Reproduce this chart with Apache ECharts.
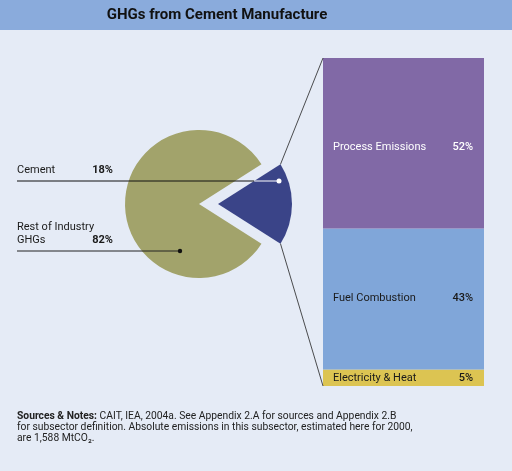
<!DOCTYPE html>
<html>
<head>
<meta charset="utf-8">
<script src="https://cdn.jsdelivr.net/npm/echarts@6/dist/echarts.min.js"></script>
<style>
html,body{margin:0;padding:0;background:#e5ebf6;}
#chart{width:512px;height:471px;}
</style>
</head>
<body>
<div id="chart"></div>
<script>
// ---- data ----
var titleText = 'GHGs from Cement Manufacture';
var pieNames = ['Cement', 'Rest of Industry GHGs'];
var pieValues = [18, 82];
var barCategories = ['Cement'];
var barNames = ['Electricity & Heat', 'Fuel Combustion', 'Process Emissions'];
var barValues = [5, 43, 52];
var noteLines = [
  'CAIT, IEA, 2004a. See Appendix 2.A for sources and Appendix 2.B',
  'for subsector definition. Absolute emissions in this subsector, estimated here for 2000,',
  'are 1,588 MtCO\u2082.'
];

// ---- layout ----
var FONT = 'Roboto, "Noto Sans", sans-serif';
var PCX = 199, PCY = 204, PR = 74, POFF = 19;
var GL = 323, GT = 58, GW = 161, GH = 328;
var cementAngle = pieValues[0] / (pieValues[0] + pieValues[1]) * 360;
var half = cementAngle / 2 * Math.PI / 180;
var vx = PCX + POFF, vy = PCY;
var topCorner = [vx + PR * Math.cos(half), vy - PR * Math.sin(half)];
var botCorner = [vx + PR * Math.cos(half), vy + PR * Math.sin(half)];
var cementLineY = 181, restLineY = 251;
var whiteStart = vx + (vy - cementLineY) / Math.tan(half);

var barColors = ['#dcc452', '#80a6d9', '#8169a6'];
var barTextColors = ['#1a1a1a', '#1a1a1a', '#ffffff'];
var barLabelOffsets = [[0, 0], [0, -1], [0, 4]];

var chart = echarts.init(document.getElementById('chart'), null, {renderer: 'canvas'});

var barSeries = barNames.map(function (nm, i) {
  return {
    type: 'bar',
    name: nm,
    stack: 'total',
    barWidth: '100%',
    silent: true,
    data: [barValues[i]],
    itemStyle: {color: barColors[i]},
    label: {
      show: true,
      position: 'insideLeft',
      distance: 10,
      offset: barLabelOffsets[i],
      formatter: function (p) { return '{n|' + p.seriesName + '}{p|' + p.value + '%}'; },
      rich: {
        n: {width: 110, fontSize: 11, fontFamily: FONT, color: barTextColors[i]},
        p: {width: 30, align: 'right', fontSize: 11, fontWeight: 500, fontFamily: FONT, color: barTextColors[i]}
      }
    }
  };
});

var graphics = [
  {type: 'rect', z: -10, shape: {x: 0, y: 0, width: 512, height: 30}, style: {fill: '#8aabdc'}},
  {type: 'text', x: 217, y: 15, style: {text: titleText, fontSize: 15, fontWeight: 'bold', fontFamily: FONT, fill: '#111', align: 'center', verticalAlign: 'middle'}},
  // zoom lines
  {type: 'line', z: 5, shape: {x1: topCorner[0], y1: topCorner[1], x2: GL, y2: GT}, style: {stroke: '#222', lineWidth: 0.8}},
  {type: 'line', z: 5, shape: {x1: botCorner[0], y1: botCorner[1], x2: GL, y2: GT + GH}, style: {stroke: '#222', lineWidth: 0.8}},
  // cement label
  {type: 'text', x: 17, y: 170, style: {text: 'Cement', fontSize: 11, fontFamily: FONT, fill: '#1a1a1a', verticalAlign: 'middle'}},
  {type: 'text', x: 113, y: 170, style: {text: pieValues[0] + '%', fontSize: 11, fontWeight: 'bold', fontFamily: FONT, fill: '#1a1a1a', align: 'right', verticalAlign: 'middle'}},
  {type: 'line', z: 5, shape: {x1: 17, y1: cementLineY, x2: whiteStart, y2: cementLineY}, style: {stroke: '#111', lineWidth: 1}},
  {type: 'line', z: 5, shape: {x1: whiteStart, y1: cementLineY, x2: 279, y2: cementLineY}, style: {stroke: '#fff', lineWidth: 1}},
  {type: 'circle', z: 6, shape: {cx: 279, cy: cementLineY, r: 2.5}, style: {fill: '#fff'}},
  // rest label
  {type: 'text', x: 17, y: 227, style: {text: 'Rest of Industry', fontSize: 11, fontFamily: FONT, fill: '#1a1a1a', verticalAlign: 'middle'}},
  {type: 'text', x: 17, y: 240, style: {text: 'GHGs', fontSize: 11, fontFamily: FONT, fill: '#1a1a1a', verticalAlign: 'middle'}},
  {type: 'text', x: 113, y: 240, style: {text: pieValues[1] + '%', fontSize: 11, fontWeight: 'bold', fontFamily: FONT, fill: '#1a1a1a', align: 'right', verticalAlign: 'middle'}},
  {type: 'line', z: 5, shape: {x1: 17, y1: restLineY, x2: 180, y2: restLineY}, style: {stroke: '#222', lineWidth: 1}},
  {type: 'circle', z: 6, shape: {cx: 180, cy: restLineY, r: 2.2}, style: {fill: '#111'}},
  // notes
  {type: 'text', x: 17, y: 411, style: {
    text: '{b|Sources & Notes:} ' + noteLines.join('\n'),
    fontSize: 10.3, lineHeight: 11, fontFamily: FONT, fill: '#222',
    rich: {b: {fontWeight: 'bold', fontSize: 10.3, lineHeight: 11, fontFamily: FONT, fill: '#222'}}
  }}
];

chart.setOption({
  animation: false,
  backgroundColor: '#e5ebf6',
  grid: {left: GL, top: GT, width: GW, height: GH},
  xAxis: {type: 'category', data: barCategories, show: false},
  yAxis: {type: 'value', min: 0, max: 100, show: false},
  series: [{
    type: 'pie',
    center: [PCX, PCY],
    radius: PR,
    startAngle: cementAngle / 2,
    clockwise: true,
    selectedMode: 'single',
    selectedOffset: POFF,
    silent: true,
    label: {show: false},
    labelLine: {show: false},
    emphasis: {disabled: true},
    data: pieNames.map(function (n, i) {
      return {name: n, value: pieValues[i], selected: i === 0, itemStyle: {color: i === 0 ? '#3a4488' : '#a2a36b'}};
    })
  }].concat(barSeries),
  graphic: graphics
});
</script>
</body>
</html>
